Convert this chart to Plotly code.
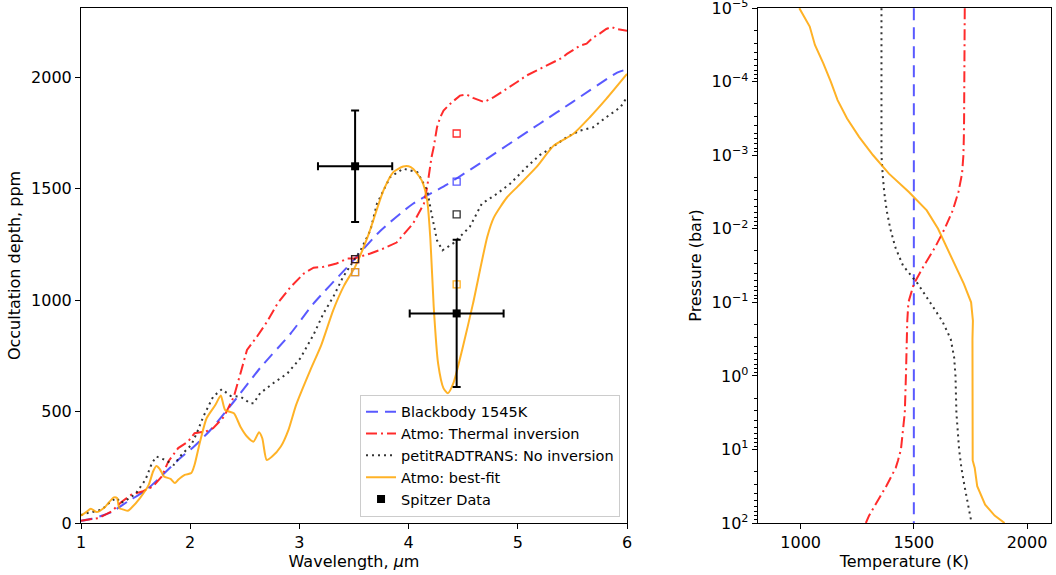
import plotly.graph_objects as go

# ---------------- Emission spectrum (left panel) ----------------
wl_bb = [1.00, 1.10, 1.28, 1.43, 1.59, 1.74, 1.89, 2.04, 2.20, 2.40, 2.64, 2.92, 3.13,
         3.44, 3.74, 4.04, 4.35, 4.65, 4.96, 5.20, 5.50, 5.91, 6.00]
depth_bb = [10, 19, 49, 97, 145, 212, 283, 345, 425, 545, 695, 850, 985,
            1149, 1310, 1432, 1518, 1612, 1713, 1791, 1888, 2020, 2035]

wl_inv = [1.00, 1.08, 1.16, 1.28, 1.37, 1.46, 1.56, 1.66, 1.74, 1.80, 1.89, 1.98, 2.04,
          2.14, 2.21, 2.31, 2.40, 2.46, 2.52, 2.61, 2.70, 2.80, 2.92, 3.04, 3.13, 3.22,
          3.34, 3.44, 3.50, 3.65, 3.74, 3.89, 4.04, 4.14, 4.17, 4.21, 4.23, 4.26, 4.29,
          4.32, 4.38, 4.47, 4.53, 4.59, 4.69, 4.78, 4.90, 4.99, 5.08, 5.20, 5.33, 5.40,
          5.45, 5.57, 5.63, 5.69, 5.75, 5.81, 5.86, 5.90, 6.00]
depth_inv = [10, 15, 22, 52, 94, 127, 141, 164, 209, 276, 336, 365, 403,
             410, 425, 477, 567, 671, 776, 835, 900, 985, 1059, 1119, 1145, 1149,
             1164, 1186, 1186, 1209, 1225, 1258, 1343, 1432, 1507, 1641, 1686, 1775, 1820,
             1850, 1880, 1917, 1922, 1907, 1888, 1910, 1947, 1977, 2007, 2037, 2066, 2085,
             2104, 2141, 2150, 2178, 2195, 2216, 2225, 2216, 2208]

wl_prt = [1.00, 1.02, 1.10, 1.19, 1.28, 1.33, 1.36, 1.40, 1.50, 1.59, 1.65, 1.69, 1.77,
          1.85, 1.92, 2.01, 2.06, 2.12, 2.21, 2.29, 2.37, 2.46, 2.55, 2.58, 2.64, 2.76,
          2.89, 3.01, 3.13, 3.22, 3.31, 3.40, 3.50, 3.56, 3.65, 3.71, 3.83, 3.95, 4.08,
          4.17, 4.21, 4.26, 4.31, 4.41, 4.56, 4.67, 4.81, 4.93, 5.08, 5.20, 5.27, 5.33,
          5.45, 5.57, 5.69, 5.81, 5.94, 6.00]
depth_prt = [35, 40, 49, 60, 100, 112, 90, 97, 131, 194, 269, 298, 283,
             261, 306, 350, 403, 477, 567, 600, 570, 567, 537, 537, 582, 627,
             671, 740, 845, 940, 1014, 1104, 1179, 1223, 1313, 1432, 1551, 1589, 1574,
             1492, 1388, 1268, 1223, 1255, 1328, 1432, 1477, 1522, 1596, 1650, 1671, 1690,
             1731, 1760, 1775, 1820, 1865, 1910]

wl_fit = [1.00, 1.05, 1.09, 1.145, 1.21, 1.30, 1.33, 1.35, 1.39, 1.43, 1.46, 1.54, 1.62,
          1.66, 1.69, 1.72, 1.76, 1.82, 1.86, 1.89, 1.95, 2.01, 2.04, 2.09, 2.15, 2.23,
          2.28, 2.32, 2.40, 2.46, 2.52, 2.58, 2.63, 2.66, 2.70, 2.75, 2.83, 2.90, 2.97,
          3.10, 3.20, 3.31, 3.41, 3.51, 3.63, 3.77, 3.86, 3.95, 4.00, 4.04, 4.12, 4.17,
          4.20, 4.23, 4.27, 4.32, 4.36, 4.41, 4.49, 4.59, 4.72, 4.78, 4.90, 5.00, 5.17,
          5.33, 5.51, 5.66, 5.81, 6.00]
depth_fit = [33, 50, 64, 49, 67, 115, 112, 67, 60, 55, 67, 112, 171,
             231, 256, 243, 209, 198, 179, 194, 216, 224, 261, 365, 470, 529,
             572, 507, 492, 432, 388, 365, 407, 380, 283, 298, 343, 418, 530,
             686, 798, 955, 1066, 1149, 1290, 1492, 1574, 1599, 1600, 1589, 1537, 1447,
             1268, 970, 716, 604, 582, 627, 776, 985, 1283, 1370, 1460, 1510, 1596,
             1693, 1746, 1820, 1902, 2014]

# Spitzer eclipse depths (3.6 and 4.5 micron channels)
spitzer_wl = [3.51, 4.44]
spitzer_wl_err = [0.34, 0.43]
spitzer_depth = [1600, 940]
spitzer_depth_err = [250, 330]

# Band-integrated model depths in each channel
band_inv = [1184, 1747]
band_bb = [1125, 1531]
band_prt = [1184, 1384]
band_fit = [1125, 1070]

# ---------------- Temperature-pressure profiles (right panel) ----------------
pressure_bar = [1.00e-5, 1.78e-5, 3.16e-5, 5.62e-5, 1.00e-4, 1.78e-4, 3.16e-4, 5.62e-4,
                1.00e-3, 1.78e-3, 3.16e-3, 5.62e-3, 1.00e-2, 1.78e-2, 3.16e-2, 5.62e-2,
                0.100, 0.178, 0.316, 0.562, 1.00, 3.16, 10.0, 14.1, 17.8, 31.6, 56.2,
                79.4, 100.0]
temp_bb = [1500] * len(pressure_bar)
temp_inv = [1725, 1725, 1725, 1724, 1724, 1723, 1722, 1721, 1719, 1713, 1697, 1672,
            1636, 1594, 1545, 1500, 1476, 1471, 1468, 1466, 1465, 1460, 1443, 1430,
            1420, 1378, 1330, 1302, 1288]
temp_prt = [1357, 1357, 1357, 1357, 1357, 1357, 1357, 1357, 1357, 1362, 1369, 1380,
            1396, 1418, 1452, 1518, 1571, 1625, 1663, 1678, 1684, 1688, 1700, 1705,
            1710, 1724, 1740, 1749, 1755]
temp_fit = [994, 1040, 1063, 1100, 1133, 1163, 1205, 1258, 1320, 1390, 1478, 1557,
            1607, 1645, 1681, 1721, 1753, 1761, 1759, 1759, 1759, 1759, 1759, 1760,
            1769, 1780, 1815, 1857, 1901]

pressure_ticks = [1e-5, 1e-4, 1e-3, 1e-2, 1e-1, 1e0, 1e1, 1e2]
pressure_ticktext = ["10<sup>\u22125</sup>", "10<sup>\u22124</sup>", "10<sup>\u22123</sup>",
                     "10<sup>\u22122</sup>", "10<sup>\u22121</sup>", "10<sup>0</sup>",
                     "10<sup>1</sup>", "10<sup>2</sup>"]
pressure_minor = [m * 10.0 ** k for k in range(-5, 2) for m in range(2, 10)]

# ---------------- Styles ----------------
C_BB = "rgba(60,60,255,0.85)"
C_INV = "rgba(255,20,20,0.9)"
C_PRT = "rgba(30,30,30,0.9)"
C_FIT = "rgba(255,165,0,0.85)"
D_BB = "12px,7px"
D_INV = "11px,4px,2px,4px"
D_PRT = "2px,4px"
LW = 2

FONT = "DejaVu Sans"

fig = go.Figure()

spectra = [
    ("Blackbody 1545K", wl_bb, depth_bb, C_BB, D_BB, "spline"),
    ("Atmo: Thermal inversion", wl_inv, depth_inv, C_INV, D_INV, "linear"),
    ("petitRADTRANS: No inversion", wl_prt, depth_prt, C_PRT, D_PRT, "linear"),
    ("Atmo: best-fit", wl_fit, depth_fit, C_FIT, "solid", "spline"),
]
for name, x, y, col, dash, shape in spectra:
    fig.add_trace(go.Scatter(x=x, y=y, mode="lines", name=name,
                             line=dict(color=col, width=LW, dash=dash, shape=shape,
                                       smoothing=0.6),
                             xaxis="x", yaxis="y"))

# band-integrated squares
for vals, col in [(band_inv, C_INV), (band_bb, C_BB), (band_prt, C_PRT), (band_fit, C_FIT)]:
    fig.add_trace(go.Scatter(x=spitzer_wl, y=vals, mode="markers", showlegend=False,
                             marker=dict(symbol="square-open", size=7, color=col,
                                         line=dict(width=1.3, color=col)),
                             xaxis="x", yaxis="y"))

fig.add_trace(go.Scatter(
    x=spitzer_wl, y=spitzer_depth, mode="markers", name="Spitzer Data",
    marker=dict(symbol="square", size=8, color="black"),
    error_x=dict(type="data", array=spitzer_wl_err, color="black", thickness=2, width=4),
    error_y=dict(type="data", array=spitzer_depth_err, color="black", thickness=2, width=4),
    xaxis="x", yaxis="y"))

profiles = [
    (temp_bb, C_BB, D_BB),
    (temp_inv, C_INV, D_INV),
    (temp_prt, C_PRT, D_PRT),
    (temp_fit, C_FIT, "solid"),
]
for t, col, dash in profiles:
    fig.add_trace(go.Scatter(x=t, y=pressure_bar, mode="lines", showlegend=False,
                             line=dict(color=col, width=LW, dash=dash),
                             xaxis="x2", yaxis="y2"))

axis_common = dict(showline=True, mirror=True, linecolor="black", linewidth=1,
                   ticks="outside", ticklen=5, tickwidth=1, tickcolor="black",
                   showgrid=False, zeroline=False,
                   tickfont=dict(family=FONT, size=16, color="black"),
                   ticklabeloverflow="allow",
                   automargin=False)

fig.update_layout(
    width=1056, height=575,
    margin=dict(l=81, r=5, t=8, b=52),
    paper_bgcolor="white", plot_bgcolor="white",
    font=dict(family=FONT, size=16, color="black"),
    xaxis=dict(domain=[0, 0.5629], range=[1, 6], tickvals=[1, 2, 3, 4, 5, 6],
               title=dict(text="Wavelength, <i>\u03bc</i>m", standoff=3,
                          font=dict(family=FONT, size=16)),
               anchor="y", **axis_common),
    yaxis=dict(domain=[0, 1], range=[0, 2310], tickvals=[0, 500, 1000, 1500, 2000],
               title=dict(text="Occultation depth, ppm", standoff=6,
                          font=dict(family=FONT, size=16)),
               anchor="x", **axis_common),
    xaxis2=dict(domain=[0.6976, 1], range=[810, 2106], tickvals=[1000, 1500, 2000],
                title=dict(text="Temperature (K)", standoff=3,
                           font=dict(family=FONT, size=16)),
                anchor="y2", **axis_common),
    yaxis2=dict(domain=[0, 1], type="log", range=[2.0, -5.002], tickvals=pressure_ticks,
                ticktext=pressure_ticktext,
                minor=dict(ticks="outside", ticklen=3, tickwidth=1, tickcolor="black",
                           tickvals=pressure_minor, showgrid=False),
                title=dict(text="Pressure (bar)", standoff=6,
                           font=dict(family=FONT, size=16)),
                anchor="x2", **axis_common),
    legend=dict(x=0.5557, y=0.0122, xanchor="right", yanchor="bottom",
                bgcolor="white", bordercolor="#cccccc", borderwidth=1,
                font=dict(family=FONT, size=14.5, color="black"),
                tracegroupgap=0, itemwidth=30),
    showlegend=True,
)

fig.write_html("out.html")
